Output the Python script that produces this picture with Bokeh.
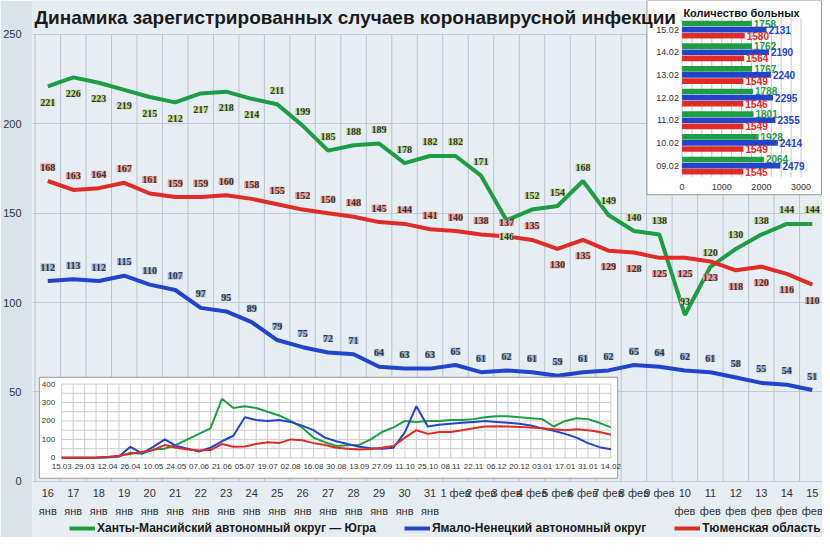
from bokeh.plotting import figure
from bokeh.models import (Range1d, FixedTicker, ColumnDataSource, LabelSet, Legend, LegendItem)
from bokeh.core.properties import value
from bokeh.embed import file_html
from bokeh.resources import INLINE

# ---------------- data ----------------
days = ["16\nянв", "17\nянв", "18\nянв", "19\nянв", "20\nянв", "21\nянв", "22\nянв", "23\nянв",
        "24\nянв", "25\nянв", "26\nянв", "27\nянв", "28\nянв", "29\nянв", "30\nянв", "31\nянв",
        "1 фев", "2 фев", "3 фев", "4 фев", "5 фев", "6 фев", "7 фев", "8 фев", "9 фев",
        "10\nфев", "11\nфев", "12\nфев", "13\nфев", "14\nфев", "15\nфев"]
hmao = [221, 226, 223, 219, 215, 212, 217, 218, 214, 211, 199, 185, 188, 189, 178, 182, 182, 171,
        146, 152, 154, 168, 149, 140, 138, 93, 120, 130, 138, 144, 144]
yanao = [112, 113, 112, 115, 110, 107, 97, 95, 89, 79, 75, 72, 71, 64, 63, 63, 65, 61, 62, 61, 59,
         61, 62, 65, 64, 62, 61, 58, 55, 54, 51]
tyumen = [168, 163, 164, 167, 161, 159, 159, 160, 158, 155, 152, 150, 148, 145, 144, 141, 140, 138,
          137, 135, 130, 135, 129, 128, 125, 125, 123, 118, 120, 116, 110]
names = ["Ханты-Мансийский автономный округ — Югра", "Ямало-Ненецкий автономный округ", "Тюменская область"]
y_ticks = [0, 50, 100, 150, 200, 250]

bar_dates = ["09.02", "10.02", "11.02", "12.02", "13.02", "14.02", "15.02"]
bar_hmao = [2064, 1928, 1801, 1788, 1767, 1762, 1758]
bar_yanao = [2479, 2414, 2355, 2295, 2240, 2190, 2131]
bar_tyumen = [1545, 1549, 1549, 1546, 1549, 1564, 1580]
bar_ticks = [0, 1000, 2000, 3000]

hist_labels = ["15.03", "29.03", "12.04", "26.04", "10.05", "24.05", "07.06", "21.06", "05.07", "19.07",
               "02.08", "16.08", "30.08", "13.09", "27.09", "11.10", "25.10", "08.11", "22.11", "06.12",
               "20.12", "03.01", "17.01", "31.01", "14.02"]
hist_hmao = [0, 0, 0, 0, 2, 8, 28, 22, 45, 50, 70, 100, 130, 160, 320, 270, 280, 270, 250, 230,
             200, 165, 110, 85, 65, 68, 70, 100, 140, 165, 200,
             195, 200, 200, 205, 205, 210, 220, 225, 225, 220, 215, 210, 170, 200, 215, 210, 190, 165]
hist_yanao = [0, 0, 0, 2, 5, 8, 60, 25, 60, 100, 65, 50, 35, 55, 90, 120, 220, 205, 200, 205, 195,
              175, 150, 110, 90, 75, 60, 52, 50, 55, 140,
              280, 170, 180, 185, 190, 195, 200, 195, 190, 185, 175, 160, 147, 130, 110, 80, 58, 47]
hist_tyumen = [0, 0, 0, 1, 5, 12, 22, 32, 42, 70, 55, 45, 40, 42, 75, 60, 62, 75, 85, 80, 100, 95,
               80, 70, 55, 50, 45, 48, 55, 65, 110,
               150, 130, 140, 140, 150, 160, 170, 172, 170, 168, 165, 160, 155, 150, 155, 150, 140, 125]
hist_yticks = [0, 100, 200, 300, 400]

GREEN, BLUE, RED = "#1e9e44", "#2244cc", "#e02b27"
GL, BL, RL = "#c5dc98", "#9fbbe0", "#eba39c"
FONT = "Liberation Sans"
W, H = 790, 537


def X(xr):
    return (xr - 20) * W / 810.0


def Y(yr):
    return H - yr * H / 553.0


def ranges(v0, p0, v1, p1, total):
    s = (p1 - p0) / (v1 - v0)
    start = v0 - p0 / s
    return Range1d(start, start + total / s)


p = figure(frame_width=W, frame_height=H, x_range=Range1d(-0.6, 30.4),
           y_range=ranges(0, Y(495), 250, Y(35), H),
           output_backend="svg", toolbar_location=None, min_border_left=24, min_border_right=0,
           min_border_top=0, min_border_bottom=0,
           background_fill_color="#e6edf3", border_fill_color="#d9e3eb")
p.outline_line_color = None
p.xaxis.visible = False
p.xgrid.visible = False
p.yaxis.ticker = FixedTicker(ticks=y_ticks)
ax = p.yaxis[0]
ax.axis_line_color = None
ax.major_tick_line_color = None
ax.minor_tick_line_color = None
ax.major_label_text_font = FONT
ax.major_label_text_font_size = "11px"
ax.major_label_text_color = "#333333"
p.ygrid.grid_line_color = "#c0cad4"
p.ygrid.ticker = FixedTicker(ticks=y_ticks)

x = list(range(len(days)))
bx_ = [i - 0.5 for i in range(len(days) + 1)]
p.segment(x0=bx_, x1=bx_, y0=[0] * len(bx_), y1=[250] * len(bx_), line_color="#b8c4d0")
p.text(x=x, y=[0] * len(x), text=days, y_offset=6, text_align="center", text_baseline="top",
       text_font=value(FONT), text_font_size="11px", text_color="#333333", text_line_height=1.5)

r1 = p.line(x, hmao, line_color=GREEN, line_width=4)
r2 = p.line(x, yanao, line_color=BLUE, line_width=4)
r3 = p.line(x, tyumen, line_color=RED, line_width=4)

g_off = [-16 if (i < 9 or i == 18) else 14 for i in x]
r_off = [14 if i < 20 else -16 for i in x]
b_off = [14 for i in x]
for vals, offs, bg in ((hmao, g_off, GL), (tyumen, r_off, RL), (yanao, b_off, BL)):
    src = ColumnDataSource(dict(x=x, y=vals, t=[str(v) for v in vals], yo=offs))
    p.add_layout(LabelSet(x="x", y="y", text="t", source=src, y_offset="yo", text_align="center",
                          text_baseline="middle", text_font_size="10px", text_font=FONT,
                          text_color="#333333", background_fill_color=bg,
                          border_line_color=None, text_font_style="bold"))

p.extra_x_ranges["px"] = Range1d(0, W)
p.extra_y_ranges["px"] = Range1d(0, H)

p.quad(left=[X(650)], right=[X(829)], top=[H], bottom=[Y(200)], x_range_name="px", y_range_name="px",
       fill_color="white", line_color="#999999")
p.extra_x_ranges["bx"] = ranges(0, X(686), 3000, X(808), W)
p.extra_y_ranges["by"] = ranges(0, Y(170), 6, Y(30), H)
gx = list(range(0, 3001, 250))
p.segment(x0=gx, x1=gx, y0=[-0.5] * len(gx), y1=[6.5] * len(gx), x_range_name="bx",
          y_range_name="by", line_color="#c8c8c8", line_width=1)
idx = list(range(len(bar_dates)))
for vals, off, col in ((bar_hmao, 0.27, GREEN), (bar_yanao, 0, BLUE), (bar_tyumen, -0.27, RED)):
    ys = [i + off for i in idx]
    p.hbar(y=ys, left=0, right=vals, height=0.25, fill_color=col, line_color=None,
           x_range_name="bx", y_range_name="by")
    p.text(x=vals, y=ys, text=[str(v) for v in vals], x_range_name="bx", y_range_name="by",
           text_color=col, text_font=value(FONT), text_font_style="bold", text_font_size="10px",
           text_baseline="middle", x_offset=2)
p.text(x=[-80] * len(idx), y=idx, text=bar_dates, x_range_name="bx", y_range_name="by",
       text_align="right", text_baseline="middle", text_font=value(FONT), text_font_size="9px",
       text_color="#333333")
p.text(x=bar_ticks, y=[-0.95] * 4, text=[str(t) for t in bar_ticks], x_range_name="bx",
       y_range_name="by", text_align="center", text_baseline="middle", text_font=value(FONT),
       text_font_size="9px", text_color="#333333")
p.text(x=[1500], y=[6.75], text=["Количество больных"], x_range_name="bx", y_range_name="by",
       text_align="center", text_baseline="middle", text_font=value(FONT), text_font_style="bold",
       text_font_size="11px", text_color="#111111")

p.quad(left=[X(27)], right=[X(620)], top=[Y(388)], bottom=[Y(492)], x_range_name="px",
       y_range_name="px", fill_color="white", line_color="#999999")
p.extra_x_ranges["hx"] = ranges(0, X(50), 336, X(613), W)
p.extra_y_ranges["hy"] = ranges(0, Y(471), 400, Y(395), H)
vx = list(range(0, 337, 7))
p.segment(x0=vx, x1=vx, y0=[0] * len(vx), y1=[400] * len(vx), x_range_name="hx", y_range_name="hy",
          line_color="#cfcfcf", line_width=1)
hy = list(range(0, 401, 50))
p.segment(x0=[0] * len(hy), x1=[336] * len(hy), y0=hy, y1=hy, x_range_name="hx", y_range_name="hy",
          line_color="#cfcfcf", line_width=1)
wx = [7 * i for i in range(len(hist_hmao))]
for vals, col in ((hist_hmao, GREEN), (hist_yanao, BLUE), (hist_tyumen, RED)):
    p.line(wx, vals, line_color=col, line_width=2, x_range_name="hx", y_range_name="hy")
p.text(x=[-4] * len(hist_yticks), y=hist_yticks, text=[str(t) for t in hist_yticks],
       x_range_name="hx", y_range_name="hy", text_align="right", text_baseline="middle",
       text_font=value(FONT), text_font_size="8px", text_color="#333333")
lx = [14 * i for i in range(len(hist_labels))]
p.text(x=lx, y=[0] * len(lx), y_offset=9, text=hist_labels, x_range_name="hx", y_range_name="hy",
       text_align="center", text_baseline="middle", text_font=value(FONT), text_font_size="8px",
       text_color="#333333")

p.text(x=[2], y=[Y(18)], text=["Динамика зарегистрированных случаев коронавирусной инфекции"],
       x_range_name="px", y_range_name="px", text_baseline="middle", text_font=value(FONT),
       text_font_style="bold", text_font_size="19px", text_color="#1a1a1a")

legend = Legend(items=[LegendItem(label=names[0], renderers=[r1]),
                       LegendItem(label=names[1], renderers=[r2]),
                       LegendItem(label=names[2], renderers=[r3])],
                orientation="horizontal", location=(int(X(58)), 2), border_line_color=None,
                background_fill_alpha=0, label_text_font=FONT, label_text_font_style="bold",
                label_text_font_size="12px", glyph_width=26, glyph_height=12, spacing=28,
                padding=0, margin=0, label_text_color="#1a1a1a", label_height=14,
                label_standoff=2)
p.add_layout(legend, "center")

open("out.html", "w").write(file_html(p, INLINE))
